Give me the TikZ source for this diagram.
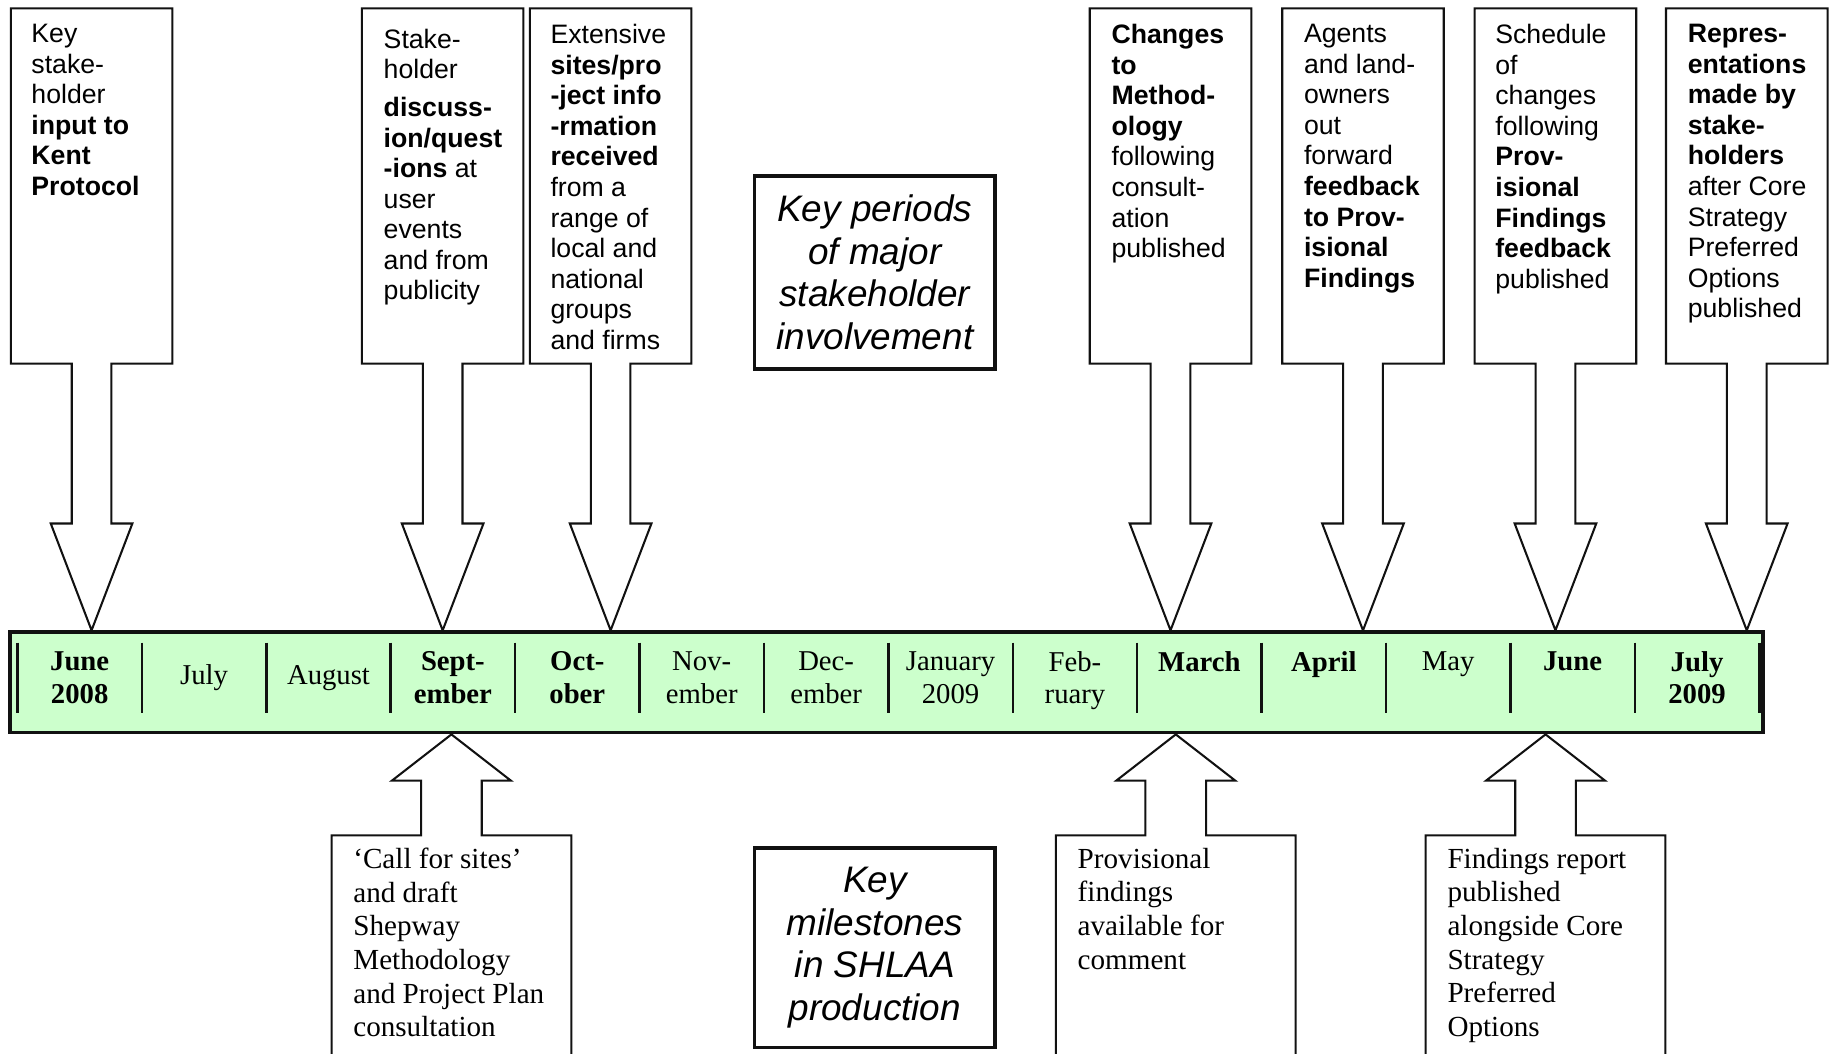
\documentclass[tikz,border=0pt]{standalone}
\usepackage{fontspec}
\setmainfont{Liberation Serif}
\setsansfont{Liberation Sans}
\usepackage{tikz}
\usetikzlibrary{positioning,calc}
\definecolor{tlmint}{HTML}{CCFFCC}
\definecolor{tlink}{HTML}{111111}

% callout from a top box down to the month bar
\newcommand{\downcall}[1]{%
  \draw[callout] (#1.north west) -- (#1.north east) -- (#1.south east)
    -- ($(#1.south)+(17,0)$) -- ($(#1.south)+(17,137)$)
    -- ($(#1.south)+(35,137)$) -- (#1.south |- bar.north)
    -- ($(#1.south)+(-35,137)$) -- ($(#1.south)+(-17,137)$)
    -- ($(#1.south)+(-17,0)$) -- (#1.south west) -- cycle;}
% callout from a bottom box up to the month bar
\newcommand{\upcall}[1]{%
  \draw[callout] (#1.south west) -- (#1.north west) -- ($(#1.north)+(-26,0)$)
    -- ($(#1.north)+(-26,-47)$) -- ($(#1.north)+(-51,-47)$)
    -- (#1.north |- bar.south)
    -- ($(#1.north)+(51,-47)$) -- ($(#1.north)+(26,-47)$)
    -- ($(#1.north)+(26,0)$) -- (#1.north east) -- (#1.south east);}

\begin{document}
\begin{tikzpicture}[
  x=0.01cm,y=-0.01cm,
  callout/.style={draw=tlink,line width=0.5pt,fill=white,line join=miter},
  topframe/.style={minimum width=1.37cm,minimum height=3.03cm,inner sep=0pt},
  lowframe/.style={minimum width=2.04cm,minimum height=1.86cm,inner sep=0pt},
  toptext/.style={anchor=north west,inner sep=0pt,align=left,
                  font=\sffamily\fontsize{6.5}{7.45}\selectfont},
  lowtext/.style={anchor=north west,inner sep=0pt,align=left,
                  font=\rmfamily\fontsize{7.1}{8.2}\selectfont},
  month/.style={minimum width=1.066cm,minimum height=0.6cm,inner sep=0pt,
                outer sep=0pt,align=center,
                font=\rmfamily\fontsize{7}{7.9}\selectfont},
  sep/.style={draw=tlink,line width=0.6pt},
  keybox/.style={draw=tlink,line width=0.9pt,minimum width=2.06cm,inner sep=0pt,
                 align=center,font=\sffamily\itshape\fontsize{9}{10.4}\selectfont},
]
\useasboundingbox (0,0) rectangle (1568,903);

% the month bar
\node[draw=tlink,line width=0.9pt,fill=tlmint,minimum width=15.02cm,
      minimum height=0.86cm,inner sep=0pt] (bar) at (760,585) {};
\node[month] (jun08) at (68.3,581) {\textbf{June}\\\textbf{2008}};
\node[month,right=0pt of jun08] (jul08) {July};
\node[month,right=0pt of jul08] (aug08) {August};
\node[month,right=0pt of aug08] (sep08) {\textbf{Sept-}\\\textbf{ember}};
\node[month,right=0pt of sep08] (oct08) {\textbf{Oct-}\\\textbf{ober}};
\node[month,right=0pt of oct08] (nov08) {Nov-\\ember};
\node[month,right=0pt of nov08] (dec08) {Dec-\\ember};
\node[month,right=0pt of dec08] (jan09) {January\\2009};
\node[month,right=0pt of jan09] (feb09) {Feb-\\\raisebox{0pt}[\height][0pt]{ruary}};
\node[month,right=0pt of feb09] (mar09) {\textbf{March}\\\phantom{M}};
\node[month,right=0pt of mar09] (apr09) {\textbf{April}\\\phantom{M}};
\node[month,right=0pt of apr09] (may09) {May\\\phantom{M}};
\node[month,right=0pt of may09] (jun09) {\textbf{June}\\\phantom{M}};
\node[month,right=0pt of jun09] (jul09) {\textbf{July}\\\textbf{2009}};
\draw[sep] (jun08.north west) -- (jun08.south west)
  (jun08.north east) -- (jun08.south east) (jul08.north east) -- (jul08.south east)
  (aug08.north east) -- (aug08.south east) (sep08.north east) -- (sep08.south east)
  (oct08.north east) -- (oct08.south east) (nov08.north east) -- (nov08.south east)
  (dec08.north east) -- (dec08.south east) (jan09.north east) -- (jan09.south east)
  (feb09.north east) -- (feb09.south east) (mar09.north east) -- (mar09.south east)
  (apr09.north east) -- (apr09.south east) (may09.north east) -- (may09.south east)
  (jun09.north east) -- (jun09.south east) (jul09.north east) -- (jul09.south east);

% stakeholder involvement, above the bar
\node[topframe] (kent) at (78.5,159.5) {};
\node[topframe] (events) at (379.5,159.5) {};
\node[topframe] (siteinfo) at (523.5,159.5) {};
\node[topframe] (method) at (1003.5,159.5) {};
\node[topframe] (agents) at (1168.5,159.5) {};
\node[topframe] (schedule) at (1333.5,159.5) {};
\node[topframe] (reps) at (1497.5,159.5) {};
\downcall{kent}
\downcall{events}
\downcall{siteinfo}
\downcall{method}
\downcall{agents}
\downcall{schedule}
\downcall{reps}

\node[toptext] (kenttxt) at ($(kent.north west)+(17,13)$)
  {Key\\stake-\\holder\\\textbf{input to}\\\textbf{Kent}\\\textbf{Protocol}};
\node[toptext] (eventstxt) at ($(events.north west)+(18,17)$)
  {Stake-\\holder\\[1.7pt]\textbf{discuss-}\\\textbf{ion/quest}\\\textbf{-ions} at\\user\\events\\and from\\publicity};
\node[toptext] (siteinfotxt) at ($(siteinfo.north west)+(17,13)$)
  {Extensive\\\textbf{sites/pro}\\\textbf{-ject info}\\\textbf{-rmation}\\\textbf{received}\\from a\\range of\\local and\\national\\groups\\and firms};
\node[toptext] (methodtxt) at ($(method.north west)+(18,13)$)
  {\textbf{Changes}\\\textbf{to}\\\textbf{Method-}\\\textbf{ology}\\following\\consult-\\ation\\published};
\node[toptext] (agentstxt) at ($(agents.north west)+(18,13)$)
  {Agents\\and land-\\owners\\out\\forward\\\textbf{feedback}\\\textbf{to Prov-}\\\textbf{isional}\\\textbf{Findings}};
\node[toptext] (scheduletxt) at ($(schedule.north west)+(17,13)$)
  {Schedule\\of\\changes\\following\\\textbf{Prov-}\\\textbf{isional}\\\textbf{Findings}\\\textbf{feedback}\\published};
\node[toptext] (repstxt) at ($(reps.north west)+(18,13)$)
  {\textbf{Repres-}\\\textbf{entations}\\\textbf{made by}\\\textbf{stake-}\\\textbf{holders}\\after Core\\Strategy\\Preferred\\Options\\published};

% milestones, below the bar
\node[lowframe] (callsites) at (387,810) {};
\node[lowframe] (provfind) at (1008,810) {};
\node[lowframe] (findrep) at (1325,810) {};
\upcall{callsites}
\upcall{provfind}
\upcall{findrep}
\node[lowtext] (callsitestxt) at ($(callsites.north west)+(18,10)$)
  {`Call for sites'\\and draft\\Shepway\\Methodology\\and Project Plan\\consultation};
\node[lowtext] (provfindtxt) at ($(provfind.north west)+(18,10)$)
  {Provisional\\findings\\available for\\comment};
\node[lowtext] (findreptxt) at ($(findrep.north west)+(18,10)$)
  {Findings report\\published\\alongside Core\\Strategy\\Preferred\\Options};

% the two legend boxes
\node[keybox,minimum height=1.65cm] (periods) at (750,233.5)
  {Key periods\\of major\\stakeholder\\involvement};
\node[keybox,minimum height=1.71cm] (milestones) at (750,812.5)
  {Key\\milestones\\in SHLAA\\production};

\end{tikzpicture}
\end{document}
